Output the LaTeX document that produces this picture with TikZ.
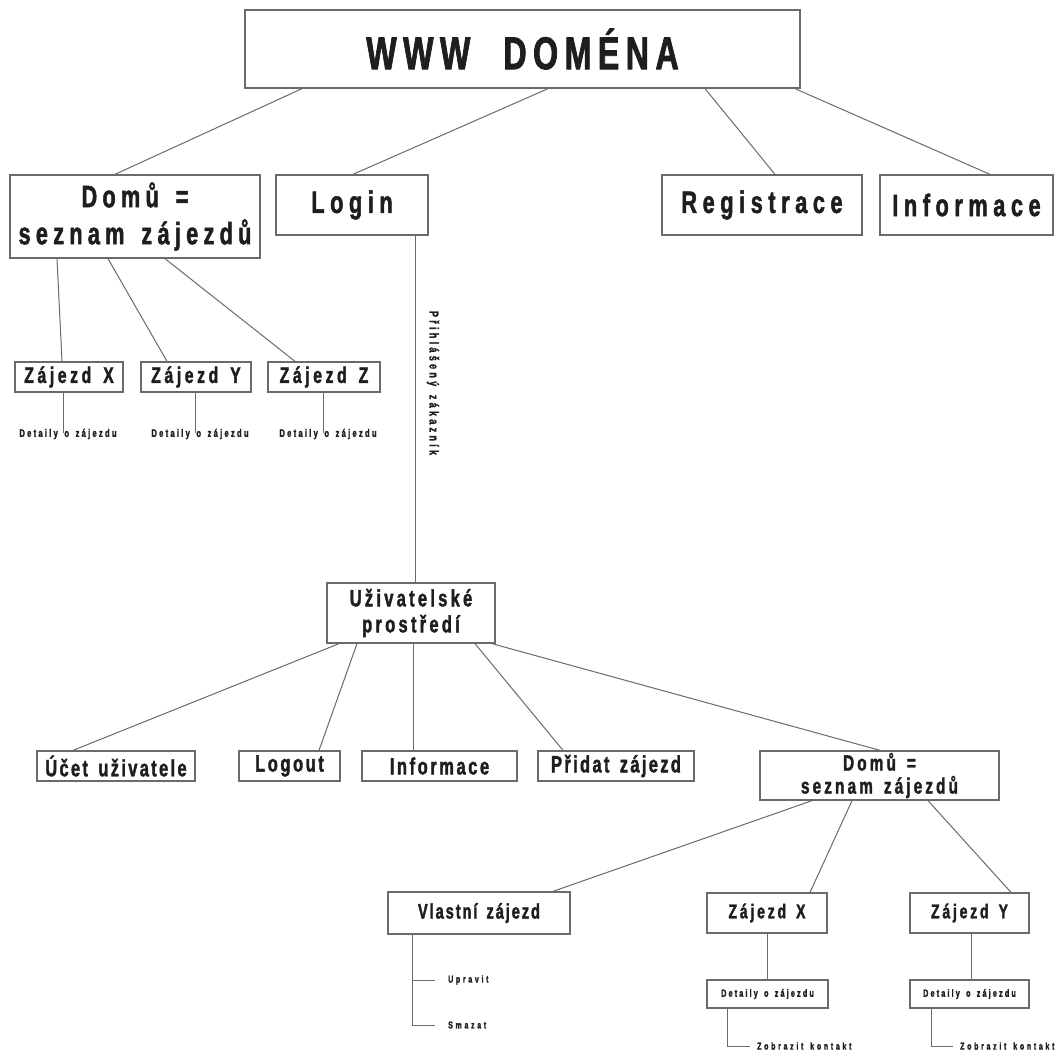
\documentclass[tikz,border=0pt]{standalone}
\usepackage{fontspec}
\newfontfamily\imp{Liberation Sans}[UprightFont={* Bold},FakeStretch=0.7,FakeBold=1.6,WordSpace=1.5]
\newcommand\fnt[3]{\imp\fontsize{#1}{#2}\selectfont\addfontfeature{LetterSpace=#3}}
\definecolor{ln}{gray}{0.42}
\definecolor{tx}{HTML}{1E1E1E}
\begin{document}
\begin{tikzpicture}[x=1pt,y=-1pt,
  box/.style={draw=ln,line width=1.3pt,inner sep=0pt,text=tx,align=center},
  lbl/.style={inner sep=0pt,text=tx,align=center},
  con/.style={draw=ln,line width=1pt}]
\useasboundingbox[fill=white] (0,0) rectangle (1057,1054);
% top
\node[box,minimum width=555pt,minimum height=78pt,font=\fnt{46}{46}{14}] (www) at (522.5,49) {WWW\hspace{10pt} DOMÉNA};
\node[box,minimum width=250pt,minimum height=83pt,font=\fnt{31}{37}{17}] (domu1) at (135,216.5) {Domů =\\seznam zájezdů};
\node[box,minimum width=152pt,minimum height=60pt,font=\fnt{31}{34}{18}] (login) at (352,205) {Login};
\node[box,minimum width=200pt,minimum height=60pt,font=\fnt{31}{34}{18}] (reg) at (762,205) {Registrace};
\node[box,minimum width=173pt,minimum height=60pt,font=\fnt{31}{34}{18}] (info1) at (966.5,205) {Informace};
\draw[con] ([xshift=-220.5]www.south) -- ([xshift=-20]domu1.north);
\draw[con] ([xshift=25.5]www.south) -- ([xshift=1]login.north);
\draw[con] ([xshift=182.5]www.south) -- ([xshift=13]reg.north);
\draw[con] ([xshift=272.5]www.south) -- ([xshift=23.5]info1.north);
% zajezdy row 1
\node[box,minimum width=108pt,minimum height=30pt,font=\fnt{22.5}{24}{16}] (zx1) at (69,377) {Zájezd X};
\node[box,minimum width=110pt,minimum height=30pt,font=\fnt{22.5}{24}{16}] (zy1) at (196,377) {Zájezd Y};
\node[box,minimum width=112pt,minimum height=30pt,font=\fnt{22.5}{24}{16}] (zz1) at (324,377) {Zájezd Z};
\draw[con] ([xshift=-78]domu1.south) -- ([xshift=-7]zx1.north);
\draw[con] ([xshift=-27]domu1.south) -- ([xshift=-29]zy1.north);
\draw[con] ([xshift=30]domu1.south) -- ([xshift=-29]zz1.north);
\node[lbl,font=\fnt{11}{12}{20}] (dx1) at (68,434) {Detaily o zájezdu};
\node[lbl,font=\fnt{11}{12}{20}] (dy1) at (200,434) {Detaily o zájezdu};
\node[lbl,font=\fnt{11}{12}{20}] (dz1) at (328,434) {Detaily o zájezdu};
\draw[con] ([xshift=-6]zx1.south) -- ([xshift=-6,yshift=-4]zx1.south |- dx1.north);
\draw[con] ([xshift=-1]zy1.south) -- ([xshift=-1,yshift=-4]zy1.south |- dy1.north);
\draw[con] ([xshift=-1]zz1.south) -- ([xshift=-1,yshift=-4]zz1.south |- dz1.north);
% login -> uzivatelske
\node[box,minimum width=168pt,minimum height=60pt,font=\fnt{23.5}{26}{14}] (uziv) at (411,613) {Uživatelské\\prostředí};
\draw[con] ([xshift=63]login.south) -- ([xshift=4]uziv.north);
\node[lbl,rotate=-90,font=\fnt{13}{14}{25}] (pz) at (433,383) {Přihlášený zákazník};
% row 2
\node[box,minimum width=158pt,minimum height=30pt,font=\fnt{23.5}{24}{10}] (ucet) at (116,766) {Účet uživatele};
\node[box,minimum width=101pt,minimum height=30pt,font=\fnt{23.5}{24}{11}] (logout) at (289.5,766) {Logout};
\node[box,minimum width=155pt,minimum height=30pt,font=\fnt{23.5}{24}{11}] (info2) at (439.5,766) {Informace};
\node[box,minimum width=156pt,minimum height=30pt,font=\fnt{23.5}{24}{10}] (pridat) at (616,766) {Přidat zájezd};
\node[box,minimum width=239pt,minimum height=49pt,font=\fnt{22}{23}{14}] (domu2) at (879.5,775.5) {Domů =\\seznam zájezdů};
\draw[con] ([xshift=-72]uziv.south) -- ([xshift=-43]ucet.north);
\draw[con] ([xshift=-54]uziv.south) -- ([xshift=29.5]logout.north);
\draw[con] ([xshift=2]uziv.south) -- ([xshift=-26.5]info2.north);
\draw[con] ([xshift=64]uziv.south) -- ([xshift=-53]pridat.north);
\draw[con] ([xshift=81]uziv.south) -- ([xshift=0.5]domu2.north);
% row 3
\node[box,minimum width=182pt,minimum height=42pt,font=\fnt{21}{22}{9}] (vlast) at (479,913) {Vlastní zájezd};
\node[box,minimum width=120pt,minimum height=40pt,font=\fnt{20}{22}{14}] (zx2) at (767,913) {Zájezd X};
\node[box,minimum width=119pt,minimum height=40pt,font=\fnt{20}{22}{14}] (zy2) at (969.5,913) {Zájezd Y};
\draw[con] ([xshift=-67.5]domu2.south) -- ([xshift=74]vlast.north);
\draw[con] ([xshift=-27.5]domu2.south) -- ([xshift=43]zx2.north);
\draw[con] ([xshift=48.5]domu2.south) -- ([xshift=41.5]zy2.north);
\node[box,minimum width=121pt,minimum height=28pt,font=\fnt{10.5}{12}{20}] (dx2) at (767.5,994) {Detaily o zájezdu};
\node[box,minimum width=119pt,minimum height=28pt,font=\fnt{10.5}{12}{20}] (dy2) at (969.5,994) {Detaily o zájezdu};
\draw[con] (zx2.south) -- (zx2.south |- dx2.north);
\draw[con] ([xshift=1.5]zy2.south) -- ([xshift=1.5]zy2.south |- dy2.north);
% leaves
\node[lbl,anchor=west,inner xsep=7pt,font=\fnt{10}{11}{27}] (zk1) at (750,1046) {Zobrazit kontakt};
\node[lbl,anchor=west,inner xsep=7pt,font=\fnt{10}{11}{27}] (zk2) at (953,1046) {Zobrazit kontakt};
\draw[con] ([xshift=-40.5]dx2.south) |- (zk1.west);
\draw[con] ([xshift=-38.5]dy2.south) |- (zk2.west);
\node[lbl,anchor=west,inner xsep=13pt,font=\fnt{10}{11}{27}] (upr) at (435,980) {Upravit};
\node[lbl,anchor=west,inner xsep=13pt,font=\fnt{10}{11}{27}] (sm) at (435,1025) {Smazat};
\draw[con] ([xshift=-67]vlast.south) |- (upr.west);
\draw[con] ([xshift=-67]vlast.south) |- (sm.west);
\end{tikzpicture}
\end{document}
